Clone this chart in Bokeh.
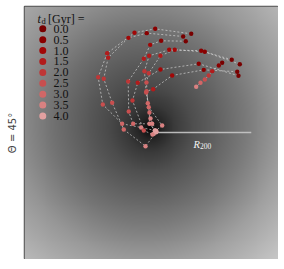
import numpy as np
from bokeh.plotting import figure
from bokeh.models import Range1d, FixedTicker
from bokeh.embed import file_html
from bokeh.resources import INLINE
from bokeh.core.properties import value

# ---------------- data ----------------
T_LABELS = ["0.0", "0.5", "1.0", "1.5", "2.0", "2.5", "3.0", "3.5", "4.0"]
T_COLORS = ["#780000", "#8a0000", "#a20707", "#b21b1b", "#bf3636", "#c84f4f",
            "#d16767", "#d98181", "#e2a0a0"]

# orbit positions in units of R200 (x, y) and time index (into T_LABELS)
o1_x = [0.373, -0.003, -0.219, -0.504, -0.598, -0.550, -0.348, -0.150, -0.007]
o1_y = [1.030, 1.082, 1.041, 0.828, 0.577, 0.292, 0.091, 0.052, 0.021]
o1_t = [0, 1, 2, 3, 4, 5, 6, 7, 8]

o2_x = [0.289, -0.091, -0.282, -0.494, -0.540, -0.452, -0.331, -0.104, 0.007]
o2_y = [1.002, 1.037, 0.988, 0.780, 0.561, 0.310, 0.031, -0.143, 0.003]
o2_t = [0, 1, 2, 3, 4, 5, 6, 7, 8]

o3_x = [0.316, 0.059, -0.055, -0.122, -0.285, -0.279, -0.233, -0.034, -0.018]
o3_y = [0.953, 0.957, 0.915, 0.769, 0.532, 0.219, 0.091, 0.091, -0.014]
o3_t = [0, 1, 2, 3, 4, 5, 6, 7, 8]

o4_x = [0.880, 0.515, 0.201, 0.052, -0.070, -0.094, -0.080, -0.052, 0.010]
o4_y = [0.713, 0.842, 0.863, 0.801, 0.619, 0.522, 0.306, 0.146, 0.010]
o4_t = [0, 1, 2, 3, 4, 5, 6, 7, 8]

o5_x = [0.796, 0.477, 0.143, -0.066, -0.115, -0.097, -0.070, 0.070, 0.005]
o5_y = [0.759, 0.853, 0.863, 0.801, 0.640, 0.418, 0.264, 0.073, 0.020]
o5_t = [0, 1, 2, 3, 4, 5, 6, 7, 8]

o6_x = [0.853, 0.504, 0.174, -0.024, -0.094, -0.063, -0.063, 0.000]
o6_y = [0.634, 0.654, 0.595, 0.452, 0.431, 0.209, 0.091, 0.014]
o6_t = [0, 1, 2, 3, 5, 6, 7, 8]

o7_x = [0.866, 0.452, 0.052, -0.185, -0.240, -0.122, -0.031]
o7_y = [0.592, 0.717, 0.658, 0.519, 0.334, 0.021, -0.021]
o7_t = [0, 1, 2, 3, 4, 5, 7]

o8_x = [0.696, 0.661, 0.592, 0.556, 0.515, 0.470, 0.425]
o8_y = [0.728, 0.699, 0.640, 0.595, 0.553, 0.519, 0.477]
o8_t = [0, 1, 3, 4, 5, 6, 7]

ORBITS = [(o1_x, o1_y, o1_t), (o2_x, o2_y, o2_t), (o3_x, o3_y, o3_t),
          (o4_x, o4_y, o4_t), (o5_x, o5_y, o5_t), (o6_x, o6_y, o6_t),
          (o7_x, o7_y, o7_t), (o8_x, o8_y, o8_t)]

# background: projected density grey level (0-255) versus radius (R200 units)
BG_R = [0.0, 0.05, 0.12, 0.25, 0.45, 0.70, 1.00, 1.40, 2.00]
BG_GRAY = [4, 20, 38, 58, 78, 96, 118, 152, 192]
BG_CENTER = (-0.05, 0.04)

R200 = 1.0
THETA_LABEL = "Θ = 45°"

# ---------------- layout ----------------
X0, X1 = -1.367, 1.284
Y0, Y1 = -1.3255, 1.315
FRAME_W, FRAME_H = 254, 253
BORDER_L, BORDER_T = 24, 6
PPU = FRAME_W / (X1 - X0)

def sx(px):  # pixel column -> data x
    return (px - 155.0) / PPU

def sy(py):  # pixel row -> data y
    return (132.0 - py) / PPU

p = figure(width=BORDER_L + FRAME_W, height=BORDER_T + FRAME_H, output_backend="svg",
           toolbar_location=None, x_range=Range1d(X0, X1), y_range=Range1d(Y0, Y1),
           x_axis_location=None, min_border_left=BORDER_L, min_border_right=0,
           min_border_top=BORDER_T, min_border_bottom=0)
p.grid.visible = False
p.outline_line_color = "#505050"
p.outline_line_width = 1.5
p.background_fill_color = "#808080"

ax = p.yaxis[0]
ax.ticker = FixedTicker(ticks=[])
ax.axis_line_color = None
ax.major_tick_out = 0
ax.minor_tick_out = 0
ax.major_tick_in = 0
ax.minor_tick_in = 0
ax.axis_label = THETA_LABEL
ax.axis_label_text_font = "DejaVu Sans"
ax.axis_label_text_font_style = "normal"
ax.axis_label_text_font_size = "10px"
ax.axis_label_standoff = 7

# background image
N = 260
gx = np.linspace(X0, X1, N)
gy = np.linspace(Y0, Y1, N)
XX, YY = np.meshgrid(gx, gy)
RR = np.hypot(XX - BG_CENTER[0], YY - BG_CENTER[1])
G = np.interp(RR, BG_R, BG_GRAY) + 5.0 * (XX - YY)
G = np.clip(G, 0, 255).astype(np.uint8)
img = np.empty((N, N), dtype=np.uint32)
view = img.view(dtype=np.uint8).reshape((N, N, 4))
view[..., 0] = G
view[..., 1] = G
view[..., 2] = G
view[..., 3] = 255
p.image_rgba(image=[img], x=X0, y=Y0, dw=X1 - X0, dh=Y1 - Y0)

# R200 line
p.line([0, R200], [0, 0], line_color="#c8c8c8", line_width=1.6, line_alpha=0.9)

# orbits
for ox, oy, ot in ORBITS:
    p.line(ox, oy, line_color="#d6d6d6", line_alpha=0.75, line_width=0.9, line_dash="2 2")
for ox, oy, ot in ORBITS:
    p.scatter(ox, oy, size=4.4, fill_color=[T_COLORS[i] for i in ot], line_color=None)

serif = value("Liberation Serif")

# legend
leg_y = [sy(28.3 + 10.9 * i) for i in range(len(T_LABELS))]
p.scatter([sx(42.3)] * len(T_LABELS), leg_y, size=7.0, fill_color=T_COLORS, line_color=None)
p.text([sx(53.0)] * len(T_LABELS), leg_y, text=T_LABELS, text_font=serif,
       text_font_size="12px", text_baseline="middle", text_color="#111111")
p.text([sx(37.0)], [sy(19.0)], text=["t"], text_font=serif, text_font_style="italic",
       text_font_size="12px", text_baseline="alphabetic", text_color="#111111")
p.text([sx(41.0)], [sy(20.8)], text=["d"], text_font=serif,
       text_font_size="8.5px", text_baseline="alphabetic", text_color="#111111")
p.text([sx(47.5)], [sy(19.0)], text=["[Gyr] ="], text_font=serif,
       text_font_size="12px", text_baseline="alphabetic", text_color="#111111")

# R200 label
p.text([sx(193.0)], [sy(143.8)], text=["R"], text_font=serif, text_font_style="italic",
       text_font_size="10.5px", text_baseline="alphabetic", text_color="#f4f4f4")
p.text([sx(199.6)], [sy(145.6)], text=["200"], text_font=serif,
       text_font_size="7.5px", text_baseline="alphabetic", text_color="#f4f4f4")

open("out.html", "w").write(file_html(p, INLINE))
